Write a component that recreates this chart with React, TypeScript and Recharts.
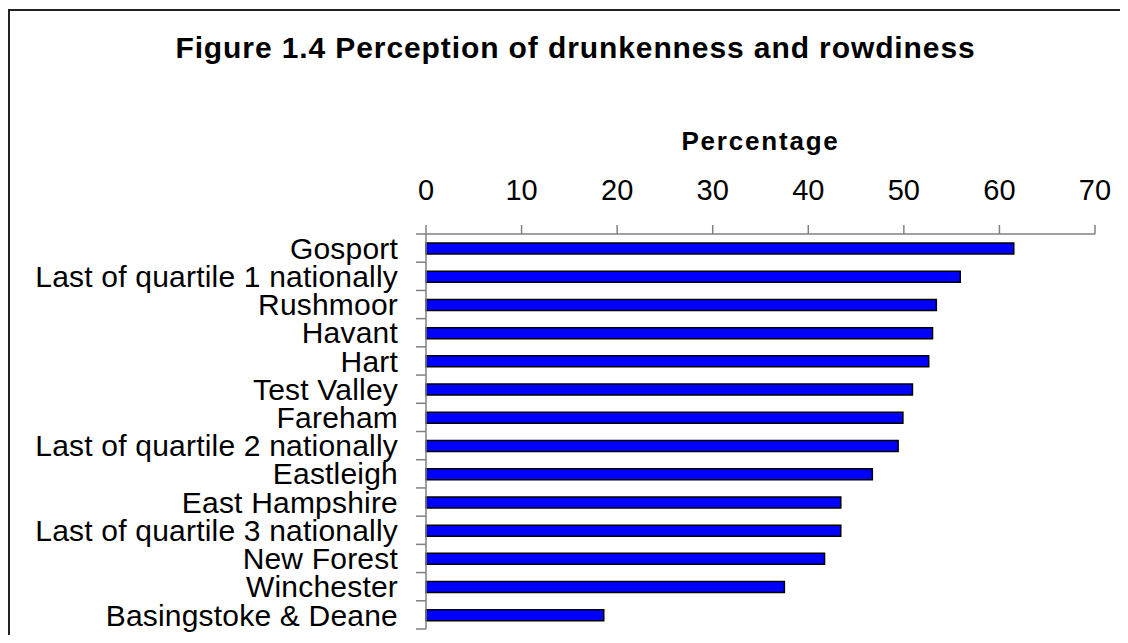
import { BarChart, Bar, XAxis, YAxis } from 'recharts';

const categories = [
  'Gosport',
  'Last of quartile 1 nationally',
  'Rushmoor',
  'Havant',
  'Hart',
  'Test Valley',
  'Fareham',
  'Last of quartile 2 nationally',
  'Eastleigh',
  'East Hampshire',
  'Last of quartile 3 nationally',
  'New Forest',
  'Winchester',
  'Basingstoke & Deane',
];
const percentages = [61.5, 55.9, 53.4, 53.0, 52.6, 50.9, 49.9, 49.4, 46.7, 43.4, 43.4, 41.7, 37.5, 18.6];
const xTicks = [0, 10, 20, 30, 40, 50, 60, 70];

const data = categories.map((name, i) => ({ name, value: percentages[i] }));

const CHART_W = 1112;
const CHART_H = 627;
const MARGIN = { top: 80, right: 25, bottom: 6, left: 0 };
const X_AXIS_H = 146;
const Y_AXIS_W = 418;
const LABEL_GAP = 28;
const BAND = (CHART_H - MARGIN.top - MARGIN.bottom - X_AXIS_H) / categories.length;

// label plus the little tick marks that sit on the band edges
const CategoryTick = (props: any) => {
  const { x, y, payload, index } = props;
  const edge = x + LABEL_GAP;
  return (
    <g>
      <text x={x} y={y} dy="0.355em" textAnchor="end" fontSize={30} letterSpacing={0.2} fill="#000">
        {payload.value}
      </text>
      <line x1={edge - 10} x2={edge} y1={y - BAND / 2} y2={y - BAND / 2} stroke="#808080" strokeWidth={1.5} />
      {index === categories.length - 1 && (
        <line x1={edge - 10} x2={edge} y1={y + BAND / 2} y2={y + BAND / 2} stroke="#808080" strokeWidth={1.5} />
      )}
    </g>
  );
};

export default function App() {
  return (
    <div style={{ position: 'relative', width: CHART_W, height: CHART_H, fontFamily: "'Liberation Sans', Arial, sans-serif" }}>
      <div
        style={{
          position: 'absolute', left: 0, top: 1, width: 1120, height: 634,
          borderTop: '2px solid #222', borderLeft: '2px solid #222', boxSizing: 'border-box', pointerEvents: 'none',
        }}
      />
      <div
        style={{
          position: 'absolute', left: 0, top: 25, width: 1135, textAlign: 'center',
          fontSize: 30, lineHeight: '30px', fontWeight: 'bold', letterSpacing: 0.9, color: '#000',
        }}
      >
        Figure 1.4 Perception of drunkenness and rowdiness
      </div>
      <div style={{ position: 'absolute', left: 0, top: 0 }}>
        <BarChart width={CHART_W} height={CHART_H} data={data} layout="vertical" margin={MARGIN}>
          <XAxis
            type="number"
            orientation="top"
            domain={[0, 70]}
            ticks={xTicks}
            height={X_AXIS_H}
            stroke="#808080"
            strokeWidth={1.5}
            tickSize={9}
            tickMargin={25}
            tick={{ fontSize: 29, fill: '#000' }}
            label={{ value: 'Percentage', position: 'insideTop', offset: 44, fontSize: 26, fontWeight: 'bold', fill: '#000', letterSpacing: 1.8 }}
          />
          <YAxis
            type="category"
            dataKey="name"
            width={Y_AXIS_W}
            stroke="#808080"
            strokeWidth={1.5}
            tickLine={false}
            tickSize={0}
            tickMargin={LABEL_GAP}
            interval={0}
            tick={<CategoryTick />}
          />
          <Bar dataKey="value" fill="#0000ff" stroke="#000" strokeWidth={1.5} barSize={11} isAnimationActive={false} />
        </BarChart>
      </div>
    </div>
  );
}
